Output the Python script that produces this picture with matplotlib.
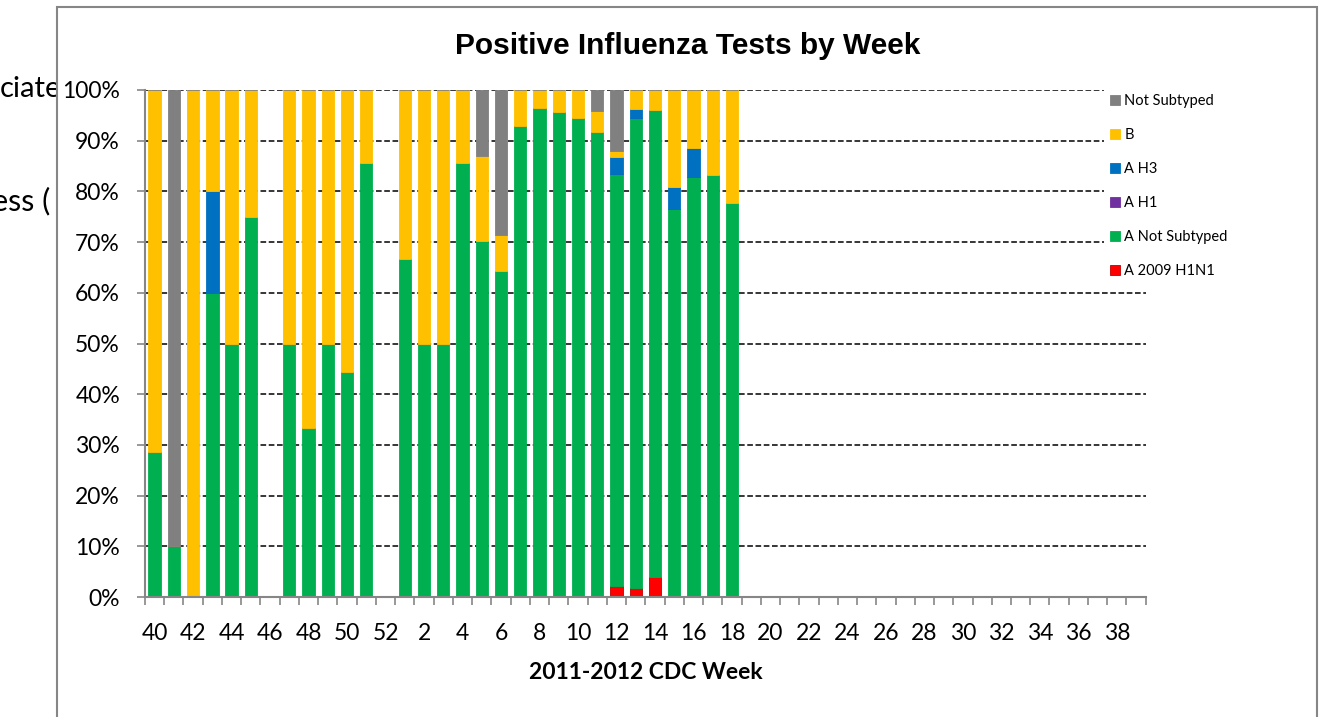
## Stacked 100% bar chart of positive influenza tests per CDC week
import numpy as np
import matplotlib
matplotlib.use("Agg")
import matplotlib.pyplot as plt
from matplotlib.patches import Rectangle

plt.rcParams['font.family'] = ['Lato', 'DejaVu Sans']

## CDC weeks on the axis (season 2011-2012)
weeks = list(range(40, 53)) + list(range(1, 40))

## Percent of positive tests by type, weeks 40 .. 18 (no data after week 18)
a_2009_h1n1 = [0, 0, 0, 0, 0, 0, 0, 0, 0, 0, 0, 0, 0,
               0, 0, 0, 0, 0, 0, 0, 0, 0, 0, 0, 2.2, 1.85, 3.85, 0, 0, 0, 0]
a_not_subtyped = [28.6, 10, 0, 60, 50, 75, 0, 50, 33.3, 50, 44.4, 85.7, 0,
                  66.7, 50, 50, 85.7, 70.2, 64.3, 92.9, 96.5, 95.7, 94.5, 91.7, 81.3, 92.6, 92.3, 76.5, 82.8, 83.3, 77.8]
a_h1 = [0, 0, 0, 0, 0, 0, 0, 0, 0, 0, 0, 0, 0,
        0, 0, 0, 0, 0, 0, 0, 0, 0, 0, 0, 0, 0, 0, 0, 0, 0, 0]
a_h3 = [0, 0, 0, 20, 0, 0, 0, 0, 0, 0, 0, 0, 0,
        0, 0, 0, 0, 0, 0, 0, 0, 0, 0, 0, 3.3, 1.85, 0, 4.4, 5.7, 0, 0]
flu_b = [71.4, 0, 100, 20, 50, 25, 0, 50, 66.7, 50, 55.6, 14.3, 0,
         33.3, 50, 50, 14.3, 16.8, 7.1, 7.1, 3.5, 4.3, 5.5, 4.2, 1.1, 3.7, 3.85, 19.1, 11.5, 16.7, 22.2]
not_subtyped = [0, 90, 0, 0, 0, 0, 0, 0, 0, 0, 0, 0, 0,
                0, 0, 0, 0, 13.0, 28.6, 0, 0, 0, 0, 4.1, 12.1, 0, 0, 0, 0, 0, 0]

series = [("A 2009 H1N1", a_2009_h1n1, '#FF0000', '#C00000'),
          ("A Not Subtyped", a_not_subtyped, '#00B050', '#00B050'),
          ("A H1", a_h1, '#7030A0', '#7030A0'),
          ("A H3", a_h3, '#0070C0', '#0070C0'),
          ("B", flu_b, '#FFC000', '#FFC000'),
          ("Not Subtyped", not_subtyped, '#808080', '#808080')]

W, H = 1319, 717
fig = plt.figure(figsize=(W / 100, H / 100), dpi=100)

## left-over text from the sheet behind the chart (cut by the chart box)
fig.text(0 / W, 1 - 89 / H, "ciated", fontsize=21, va='center', ha='left', zorder=0.2)
fig.text(-8 / W, 1 - 201 / H, "ess (", fontsize=22, va='center', ha='left', zorder=0.2)

## chart box
fig.add_artist(Rectangle((57 / W, -0.02), (1317 - 57) / W, 1.02 - 7 / H, transform=fig.transFigure,
                         facecolor='white', edgecolor='#868686', lw=1.5, zorder=0.5))

ax = fig.add_axes([145 / W, 1 - 597 / H, (1145.7 - 145) / W, (597 - 90) / H])
ax.set_zorder(1)
ax.patch.set_alpha(0)

x = np.arange(len(a_not_subtyped))
bottom = np.zeros(len(x))
handles = []
for name, vals, col, edge in series:
    vals = np.array(vals) / 100.0
    b = ax.bar(x, vals, 0.64, bottom=bottom, color=col, edgecolor=edge, linewidth=0.6, label=name)
    bottom += vals
    handles.append(b)

ax.set_xlim(-0.5, len(weeks) - 0.5)
ax.set_ylim(0, 1)

## y axis in percent, dashed grid
ax.set_yticks(np.arange(0, 1.01, 0.1))
ax.set_yticklabels(["%d%%" % v for v in range(0, 101, 10)])
ax.yaxis.grid(True, linestyle=(0, (3.7, 1.7)), color='black', linewidth=1.1)
ax.set_axisbelow(True)

## x axis: ticks between categories, a label every second week
ax.set_xticks(np.arange(0, len(weeks), 2))
ax.set_xticklabels([str(weeks[i]) for i in range(0, len(weeks), 2)])
ax.set_xticks(np.arange(-0.5, len(weeks), 1), minor=True)
ax.tick_params(axis='x', which='major', length=0, pad=19, labelsize=16.5)
ax.tick_params(axis='x', which='minor', length=6, width=1.2, color='#868686')
ax.tick_params(axis='y', length=6, width=1.2, color='#868686', pad=12, labelsize=16.5)

for s in ['top', 'right']:
    ax.spines[s].set_visible(False)
for s in ['left', 'bottom']:
    ax.spines[s].set_color('#868686')
    ax.spines[s].set_linewidth(1.5)

ax.set_xlabel("2011-2012 CDC Week", fontsize=16.5, fontweight='bold', labelpad=13)
fig.text(688 / W, 1 - 46 / H, "Positive Influenza Tests by Week", fontsize=21.5,
         fontweight='bold', family='Liberation Sans', ha='center', va='center')

leg = ax.legend(handles[::-1], [s[0] for s in series][::-1], loc='upper left',
                bbox_to_anchor=(1104 / W, 1 - 88 / H), bbox_transform=fig.transFigure,
                fontsize=10.5, frameon=True, framealpha=1, edgecolor='none', fancybox=False,
                handlelength=0.7, handleheight=0.7, handletextpad=0.3, labelspacing=1.37,
                borderaxespad=0)

fig.savefig("out.png", dpi=100)
